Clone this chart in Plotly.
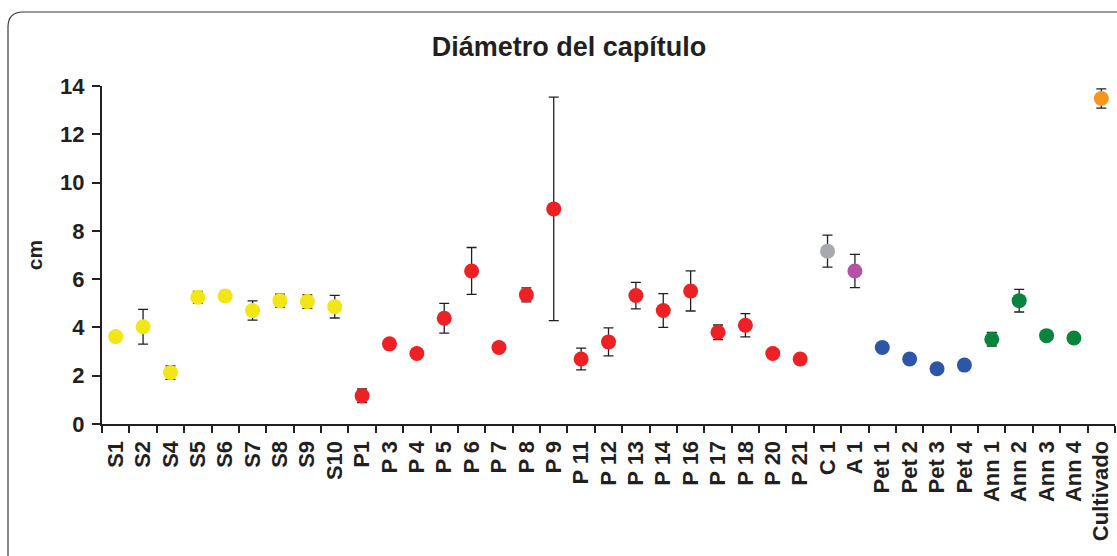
import plotly.graph_objects as go

categories = ["S1", "S2", "S4", "S5", "S6", "S7", "S8", "S9", "S10", "P1",
              "P 3", "P 4", "P 5", "P 6", "P 7", "P 8", "P 9", "P 11", "P 12", "P 13",
              "P 14", "P 16", "P 17", "P 18", "P 20", "P 21", "C 1", "A 1",
              "Pet 1", "Pet 2", "Pet 3", "Pet 4", "Ann 1", "Ann 2", "Ann 3", "Ann 4", "Cultivado"]

means = [3.62, 4.03, 2.13, 5.25, 5.30, 4.70, 5.11, 5.07, 4.86, 1.17,
         3.32, 2.92, 4.38, 6.34, 3.17, 5.35, 8.91, 2.69, 3.40, 5.32,
         4.70, 5.51, 3.80, 4.09, 2.92, 2.69, 7.16, 6.34,
         3.17, 2.69, 2.29, 2.44, 3.51, 5.11, 3.66, 3.56, 13.48]

errors = [0.10, 0.72, 0.28, 0.24, 0.20, 0.40, 0.27, 0.28, 0.47, 0.28,
          0.08, 0.15, 0.62, 0.97, 0.10, 0.29, 4.63, 0.45, 0.58, 0.55,
          0.70, 0.83, 0.30, 0.48, 0.08, 0.06, 0.66, 0.69,
          0.05, 0.05, 0.05, 0.05, 0.28, 0.47, 0.08, 0.05, 0.40]

groups = ["S"] * 9 + ["P"] * 17 + ["C", "A"] + ["Pet"] * 4 + ["Ann"] * 4 + ["Cult"]
group_colors = {"S": "#F2E614", "P": "#EE2024", "C": "#A7A9AC", "A": "#B552A5",
                "Pet": "#2E56A8", "Ann": "#08843F", "Cult": "#F7961E"}
colors = [group_colors[g] for g in groups]

ink = "#231F20"

fig = go.Figure()
fig.add_trace(go.Scatter(
    x=categories, y=means, mode="markers",
    marker=dict(size=15, color=colors, line=dict(width=0)),
    error_y=dict(type="data", array=errors, visible=True, color=ink, thickness=1.3, width=5),
    showlegend=False, cliponaxis=False,
))

W, H = 1117, 556
L, R, T, B = 102, 2, 86, 132
pw, ph = W - L - R, H - T - B

def px(x):
    return (x - L) / pw

def py(y):
    return (H - B - y) / ph

frame_path = (f"M {px(8)},{py(575)} L {px(8)},{py(27)} "
              f"Q {px(8)},{py(12)} {px(23)},{py(12)} L {px(1130)},{py(12)}")
fig.add_shape(type="path", path=frame_path, xref="paper", yref="paper",
              line=dict(color="#3a3a3a", width=1.2))

fig.update_layout(
    width=W, height=H,
    margin=dict(l=L, r=R, t=T, b=B),
    paper_bgcolor="white", plot_bgcolor="white",
    font=dict(family="Liberation Sans, Arial, sans-serif", color=ink),
    title=dict(text="<b>Diámetro del capítulo</b>", x=569 / W, xanchor="center",
               y=1 - 47 / H, yanchor="middle",
               font=dict(size=27, color=ink)),
    xaxis=dict(
        type="category", range=[-0.5, len(categories) - 0.5],
        tickmode="linear", tick0=0, dtick=1,
        tickangle=-90, tickson="boundaries", ticks="outside", ticklen=7, tickwidth=2,
        tickcolor=ink, showline=True, linecolor=ink, linewidth=2.2,
        showgrid=False, zeroline=False,
        tickfont=dict(size=22, color=ink, weight="bold"),
        ticklabelstandoff=6,
    ),
    yaxis=dict(
        range=[0, 14], tickvals=[0, 2, 4, 6, 8, 10, 12, 14],
        ticks="outside", ticklen=8, tickwidth=2, tickcolor=ink,
        showline=True, linecolor=ink, linewidth=2.2,
        showgrid=False, zeroline=False,
        tickfont=dict(size=22, color=ink, weight="bold"),
        ticklabelstandoff=3,
        title=dict(text="<b>cm</b>", font=dict(size=21, color=ink), standoff=12),
    ),
)

fig.write_html("out.html")
